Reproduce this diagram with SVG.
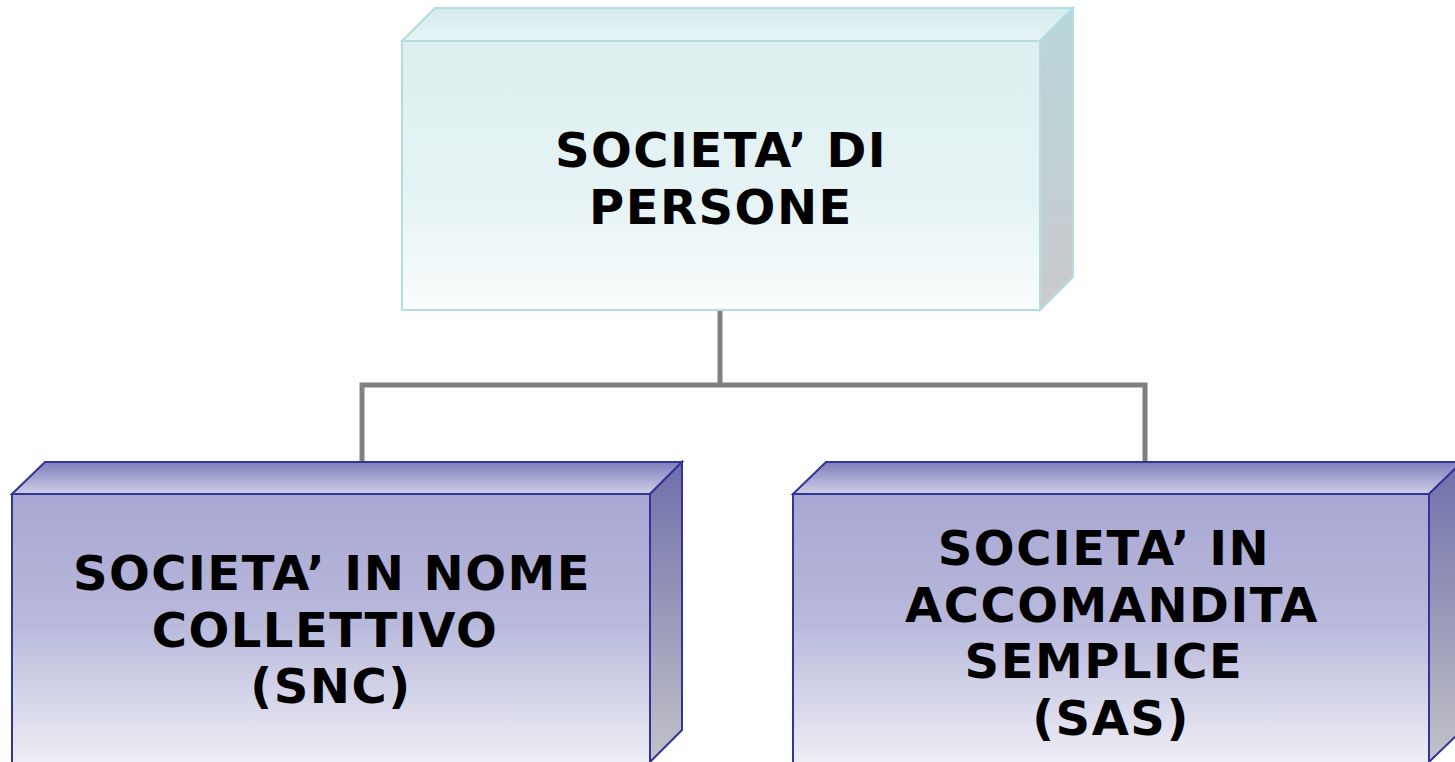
<svg xmlns="http://www.w3.org/2000/svg" width="1455" height="762" viewBox="0 0 1455 762">
  <defs>
    <!-- light cyan block -->
    <linearGradient id="cyanFront" x1="0" y1="0" x2="0" y2="1">
      <stop offset="0" stop-color="#deeff0"/>
      <stop offset="0.6" stop-color="#e6f3f4"/>
      <stop offset="1" stop-color="#fafdfd"/>
    </linearGradient>
    <linearGradient id="cyanTop" x1="0" y1="0" x2="0" y2="1">
      <stop offset="0" stop-color="#d3eaec"/>
      <stop offset="1" stop-color="#e8f4f5"/>
    </linearGradient>
    <linearGradient id="cyanSide" x1="0" y1="0" x2="0" y2="1">
      <stop offset="0" stop-color="#b8d6da"/>
      <stop offset="1" stop-color="#cacacd"/>
    </linearGradient>
    <!-- lavender blocks -->
    <linearGradient id="blueFront" x1="0" y1="0" x2="0" y2="1">
      <stop offset="0" stop-color="#a7a7d3"/>
      <stop offset="0.45" stop-color="#b9b9dc"/>
      <stop offset="1" stop-color="#f6f6fa"/>
    </linearGradient>
    <linearGradient id="blueTop" x1="0" y1="0" x2="0" y2="1">
      <stop offset="0" stop-color="#7e7ebd"/>
      <stop offset="1" stop-color="#cfcfe6"/>
    </linearGradient>
    <linearGradient id="blueSide" x1="0" y1="0" x2="0" y2="1">
      <stop offset="0" stop-color="#6f6fab"/>
      <stop offset="1" stop-color="#c2c2c8"/>
    </linearGradient>
  </defs>
  <style>
    .cyan { stroke: #b3dde0; stroke-width: 2; stroke-linejoin: miter; }
    .blue { stroke: #333399; stroke-width: 2; stroke-linejoin: miter; }
    .label { font-family: "DejaVu Sans", Verdana, sans-serif; font-weight: bold; font-size: 48px; letter-spacing: 1.5px; fill: #000; text-anchor: middle; }
    .link { fill: none; stroke: #808080; stroke-width: 5; }
  </style>

  <rect width="1455" height="762" fill="#ffffff"/>

  <!-- connectors -->
  <g id="connectors">
    <path class="link" d="M720 311 V385"/>
    <path class="link" d="M362 463 V385 H1145 V463"/>
  </g>

  <!-- root block -->
  <g id="node-persone">
    <polygon class="cyan" fill="url(#cyanTop)" points="402,41 435,8 1073,8 1040,41"/>
    <polygon class="cyan" fill="url(#cyanSide)" points="1040,41 1073,8 1073,277 1040,310"/>
    <rect class="cyan" fill="url(#cyanFront)" x="402" y="41" width="638" height="269"/>
    <text class="label" x="721" y="167">SOCIETA’ DI</text>
    <text class="label" x="721" y="224">PERSONE</text>
  </g>

  <!-- left child block -->
  <g id="node-snc">
    <polygon class="blue" fill="url(#blueTop)" points="12,494 45,462 682,462 650,494"/>
    <polygon class="blue" fill="url(#blueSide)" points="650,494 682,462 682,730 650,762"/>
    <rect class="blue" fill="url(#blueFront)" x="12" y="494" width="638" height="290"/>
    <text class="label" x="332" y="590">SOCIETA’ IN NOME</text>
    <text class="label" x="325" y="647">COLLETTIVO</text>
    <text class="label" x="331" y="703">(SNC)</text>
  </g>

  <!-- right child block -->
  <g id="node-sas">
    <polygon class="blue" fill="url(#blueTop)" points="793,494 826,462 1462,462 1429,494"/>
    <polygon class="blue" fill="url(#blueSide)" points="1429,494 1462,462 1462,730 1429,762"/>
    <rect class="blue" fill="url(#blueFront)" x="793" y="494" width="636" height="290"/>
    <text class="label" x="1104" y="565">SOCIETA’ IN</text>
    <text class="label" x="1112" y="622">ACCOMANDITA</text>
    <text class="label" x="1104" y="678">SEMPLICE</text>
    <text class="label" x="1111" y="735">(SAS)</text>
  </g>
</svg>
